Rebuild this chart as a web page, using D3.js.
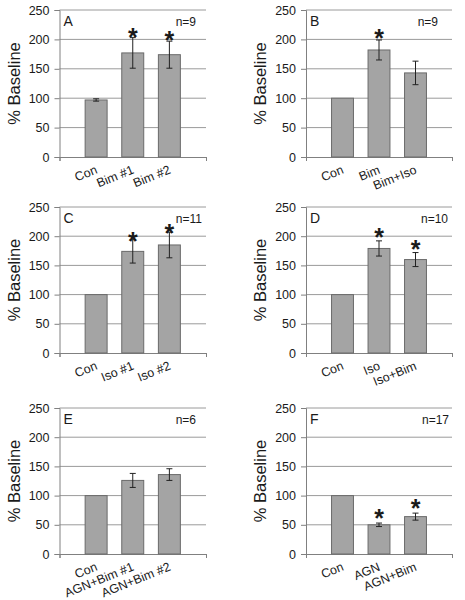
<!DOCTYPE html>
<html>
<head>
<meta charset="utf-8">
<script src="https://cdn.jsdelivr.net/npm/d3@7"></script>
<style>
  html, body { margin: 0; padding: 0; background: #fff; }
  svg { display: block; }
  text { font-family: "Liberation Sans", Arial, sans-serif; fill: #1a1a1a; }
</style>
</head>
<body>
<div id="chart"></div>
<script>
// ---------- data ----------
const panelLetters = ["A", "B", "C", "D", "E", "F"];
const nLabels = ["n=9", "n=9", "n=11", "n=10", "n=6", "n=17"];
const categories = [
  ["Con", "Bim #1", "Bim #2"],
  ["Con", "Bim", "Bim+Iso"],
  ["Con", "Iso #1", "Iso #2"],
  ["Con", "Iso", "Iso+Bim"],
  ["Con", "AGN+Bim #1", "AGN+Bim #2"],
  ["Con", "AGN", "AGN+Bim"]
];
const means = [
  [97, 177, 174],
  [100, 182, 143],
  [100, 174, 185],
  [100, 179, 160],
  [100, 126, 136],
  [100, 50, 64]
];
const errors = [
  [2, 26, 23],
  [0, 17, 20],
  [0, 20, 22],
  [0, 13, 12],
  [0, 12, 10],
  [0, 3, 6]
];
const significant = [
  [false, true, true],
  [false, true, false],
  [false, true, true],
  [false, true, true],
  [false, false, false],
  [false, true, true]
];
const yTicks = [0, 50, 100, 150, 200, 250];
const yTitle = "% Baseline";

// ---------- layout ----------
const W = 465, H = 600;
const colX0 = [59.5, 306], colX1 = [206, 452];
const rowTop = [10, 207, 408], rowBottom = [157, 353, 554];
const nRightInset = [10, 14, 4, 4, 10, 3];
const starGap = [6, 7, 4, 9, 0, 10];

const svg = d3.select("#chart").append("svg")
  .attr("width", W).attr("height", H);

panelLetters.forEach((letter, p) => {
  const col = p % 2, row = Math.floor(p / 2);
  const x0 = colX0[col], x1 = colX1[col];
  const yTop = rowTop[row], yBot = rowBottom[row];

  const x = d3.scaleLinear().domain([0, 4]).range([x0, x1]);
  const y = d3.scaleLinear().domain([0, 250]).range([yBot, yTop]);
  const g = svg.append("g");

  // gridlines
  g.selectAll("line.grid").data(yTicks.filter(t => t > 0)).join("line")
    .attr("class", "grid")
    .attr("x1", x0).attr("x2", x1)
    .attr("y1", d => y(d)).attr("y2", d => y(d))
    .attr("stroke", "#9a9a9a").attr("stroke-width", 1);

  // y axis
  const yAxis = d3.axisLeft(y).tickValues(yTicks).tickSize(5).tickPadding(5);
  const ya = g.append("g").attr("transform", `translate(${x0},0)`).call(yAxis);
  ya.select(".domain").attr("stroke", "#808080");
  ya.selectAll(".tick line").attr("stroke", "#808080");
  ya.selectAll(".tick text")
    .style("font-family", "'Liberation Sans', Arial, sans-serif")
    .style("font-size", "12.5px").attr("fill", "#1a1a1a");

  // x axis line with end ticks
  const xa = d3.axisBottom(x).tickValues([0, 4]).tickSize(4).tickFormat("");
  const xg = g.append("g").attr("transform", `translate(0,${yBot})`).call(xa);
  xg.select(".domain").attr("stroke", "#808080");
  xg.selectAll(".tick line").attr("stroke", "#808080");

  // bars
  const bw = (x(1) - x(0)) * 0.6;
  g.selectAll("rect.bar").data(means[p]).join("rect")
    .attr("class", "bar")
    .attr("x", (d, i) => x(i + 1) - bw / 2)
    .attr("width", bw)
    .attr("y", d => y(d))
    .attr("height", d => y(0) - y(d))
    .attr("fill", "#a4a4a4")
    .attr("stroke", "#6a6a6a").attr("stroke-width", 1);

  // error bars
  const cap = 3;
  means[p].forEach((m, i) => {
    const e = errors[p][i];
    if (!e) return;
    const cx = x(i + 1);
    const eg = g.append("g").attr("stroke", "#222").attr("stroke-width", 1);
    eg.append("line").attr("x1", cx).attr("x2", cx).attr("y1", y(m + e)).attr("y2", y(m - e));
    eg.append("line").attr("x1", cx - cap).attr("x2", cx + cap).attr("y1", y(m + e)).attr("y2", y(m + e));
    eg.append("line").attr("x1", cx - cap).attr("x2", cx + cap).attr("y1", y(m - e)).attr("y2", y(m - e));
    if (significant[p][i]) {
      g.append("text")
        .attr("x", cx).attr("y", y(m + e) - starGap[p] + 14)
        .attr("text-anchor", "middle")
        .style("font-size", "25px").style("font-weight", "bold")
        .text("*");
    }
  });

  // category labels
  categories[p].forEach((c, i) => {
    g.append("text")
      .attr("transform", `translate(${x(i + 1) + 2},${yBot + 16}) rotate(-22)`)
      .attr("text-anchor", "end")
      .style("font-size", "12.5px")
      .text(c);
  });

  // panel letter and n
  g.append("text").attr("x", x0 + 4).attr("y", yTop + 16)
    .style("font-size", "14px").text(letter);
  g.append("text").attr("x", x1 - nRightInset[p]).attr("y", yTop + 16)
    .attr("text-anchor", "end")
    .style("font-size", "12px").text(nLabels[p]);

  // y title
  g.append("text")
    .attr("transform", `translate(${x0 - 40},${(yTop + yBot) / 2}) rotate(-90)`)
    .attr("text-anchor", "middle")
    .style("font-size", "16.5px")
    .text(yTitle);
});
</script>
</body>
</html>
